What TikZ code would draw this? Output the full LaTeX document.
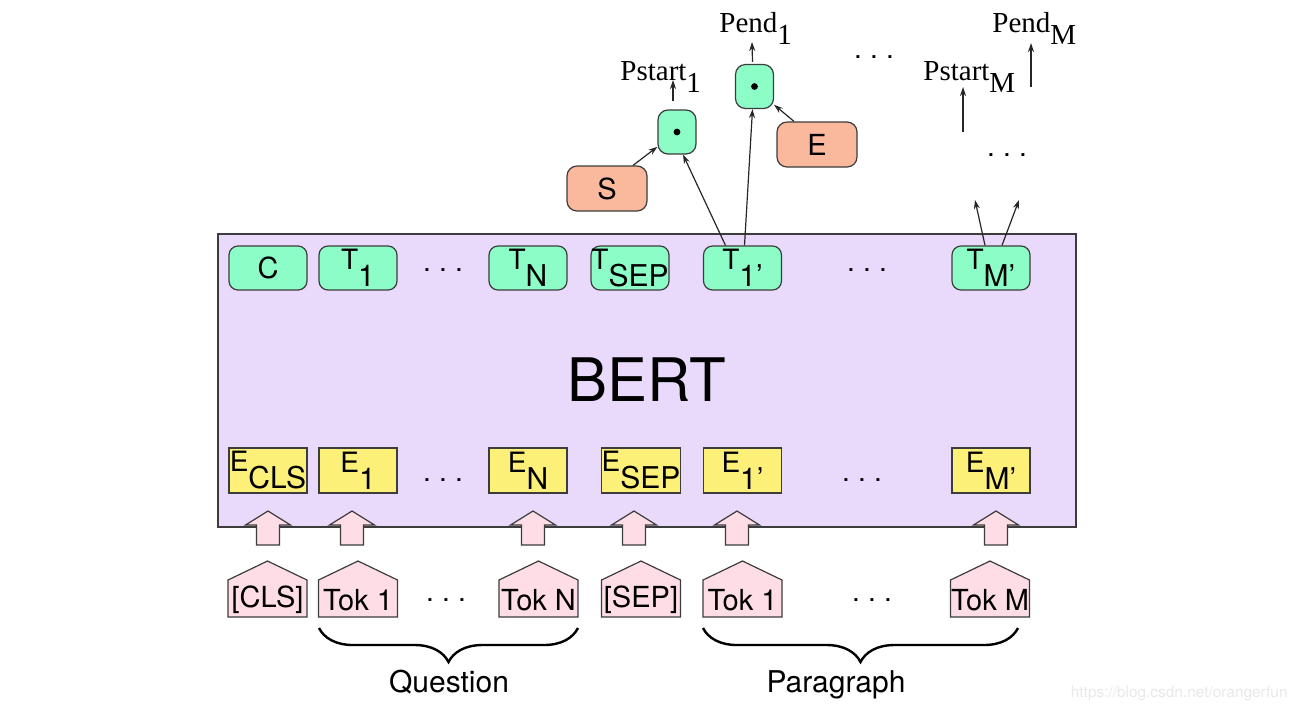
\documentclass[tikz,border=0pt]{standalone}
\usepackage{fontspec}
\setmainfont{Liberation Serif}
\setsansfont{TeX Gyre Heros}
\usetikzlibrary{arrows.meta,decorations.pathreplacing}

\definecolor{bertbg}{RGB}{233,218,252}
\definecolor{tgreen}{RGB}{140,253,199}
\definecolor{eyellow}{RGB}{252,240,121}
\definecolor{tokpink}{RGB}{255,221,230}
\definecolor{salmon}{RGB}{250,184,157}
\definecolor{edgegray}{RGB}{60,60,60}

\newcommand\sfs[1]{\fontsize{#1}{#1}\selectfont}
\newcommand\lbl[2]{{\sfs{14}#1}\raisebox{-8.5pt}{\sfs{15}#2}}
\newcommand\plbl[2]{#1\raisebox{-6pt}{#2}}
\newcommand\hdotsx{.\hspace{4.1pt}.\hspace{4.1pt}.}

\tikzset{
  bertbox/.style={draw=edgegray, fill=bertbg, line width=0.6pt},
  tbox/.style={draw=edgegray, fill=tgreen, rounded corners=4.5pt, minimum width=39pt, minimum height=22pt, inner sep=0pt, font=\sffamily, line width=0.6pt},
  ebox/.style={draw=edgegray, fill=eyellow, minimum width=39pt, minimum height=22.5pt, inner sep=0pt, font=\sffamily, line width=0.6pt},
  dotbox/.style={draw=edgegray, fill=tgreen, rounded corners=5pt, minimum width=19pt, minimum height=22pt, inner sep=0pt, line width=0.6pt},
  sebox/.style={draw=edgegray, fill=salmon, rounded corners=5pt, minimum width=40pt, minimum height=22.5pt, inner sep=0pt, font=\sffamily\sfs{14.5}, line width=0.6pt},
  tokstyle/.style={draw=edgegray, fill=tokpink, line width=0.6pt},
  blockarr/.style={draw=edgegray, fill=tokpink, line width=0.6pt},
  tokfont/.style={font=\sffamily\sfs{14.5}, inner sep=0pt},
  dotsnode/.style={font=\sffamily\sfs{14}, inner sep=0pt},
  arr/.style={-{Stealth[length=4.5pt,width=3pt]}, line width=0.6pt, draw=black!85},
  plabel/.style={font=\sfs{14.5}, inner sep=0pt, anchor=base west},
  bracestyle/.style={decorate, decoration={brace, mirror, amplitude=17pt}, line width=1.2pt},
}

\newcommand\tokshape[3]{%
  \draw[tokstyle] (#2-39.5,617) -- (#2-39.5,580) -- (#2,561) -- (#2+39.5,580) -- (#2+39.5,617) -- cycle;
  \node[tokfont] (#1) at (#2,600) {#3};}
\newcommand\uparr[1]{%
  \draw[blockarr] (#1-11.5,545) -- (#1-11.5,525) -- (#1-22.5,525) -- (#1,511) -- (#1+22.5,525) -- (#1+11.5,525) -- (#1+11.5,545) -- cycle;}

\begin{document}
\begin{tikzpicture}[x=0.5pt,y=-0.5pt]
\useasboundingbox (0,0) rectangle (1295,714);

% BERT block
\draw[bertbox] (218,234) rectangle (1076,527);
\node[font=\sffamily\sfs{30}, inner sep=0pt] (bert) at (647,380) {BERT};

% T row
\node[tbox] (C) at (268,268) {\sfs{14.5}C};
\node[tbox] (T1) at (358,268) {\lbl{T}{1}};
\node[dotsnode] (tdots1) at (443,270) {\hdotsx};
\node[tbox] (TN) at (528,268) {\lbl{T}{N}};
\node[tbox] (TSEP) at (630,268) {\lbl{T}{SEP}};
\node[tbox] (T1p) at (742.5,268) {\lbl{T}{1’}};
\node[dotsnode] (tdots2) at (867,270) {\hdotsx};
\node[tbox] (TMp) at (991,268) {\lbl{T}{M’}};

% E row
\node[ebox] (ECLS) at (268,470.5) {\lbl{E}{CLS}};
\node[ebox] (E1) at (358,470.5) {\lbl{E}{1}};
\node[dotsnode] (edots1) at (443,480) {\hdotsx};
\node[ebox] (EN) at (528,470.5) {\lbl{E}{N}};
\node[ebox] (ESEP) at (641,470.5) {\lbl{E}{SEP}};
\node[ebox] (E1p) at (742.5,470.5) {\lbl{E}{1’}};
\node[dotsnode] (edots2) at (862,480) {\hdotsx};
\node[ebox] (EMp) at (991,470.5) {\lbl{E}{M’}};

% block arrows
\uparr{268}
\uparr{352}
\uparr{533}
\uparr{634}
\uparr{737}
\uparr{996}

% tokens
\tokshape{tcls}{267.5}{[CLS]}
\tokshape{tok1}{358}{Tok 1}
\node[dotsnode] (kdots1) at (446,600) {\hdotsx};
\tokshape{tokN}{538.5}{Tok N}
\tokshape{tsep}{641}{[SEP]}
\tokshape{tok1p}{742.5}{Tok 1}
\node[dotsnode] (kdots2) at (872,600) {\hdotsx};
\tokshape{tokM}{990}{Tok M}

% braces
\draw[bracestyle] (319,628) -- (578,628);
\draw[bracestyle] (703,628) -- (1018,628);
\node[font=\sffamily\sfs{15}, inner sep=0pt, anchor=base] (question) at (449,692) {Question};
\node[font=\sffamily\sfs{15}, inner sep=0pt, anchor=base] (paragraph) at (836,692) {Paragraph};

% dot product nodes
\node[dotbox] (dot1) at (677,132) {};
\fill (dot1.center) circle (1.7pt);
\node[dotbox] (dot2) at (754.5,86.5) {};
\fill (dot2.center) circle (1.7pt);
\node[sebox] (S) at (607,188.5) {S};
\node[sebox] (E) at (817,144.5) {E};

\draw[arr] ([xshift=13pt]S.north) -- (dot1.217);
\draw[arr] ([xshift=-8.5pt]T1p.north) -- ([xshift=3pt]dot1.south);
\draw[arr] ([xshift=1pt]T1p.north) -- ([xshift=-1pt]dot2.south);
\draw[arr] ([xshift=-11.5pt]E.north) -- (dot2.-43);

% output labels
\coordinate (ps1) at (673,80);
\coordinate (pe1) at (752,42);
\draw[arr] ([xshift=-2pt,yshift=4pt]dot1.north) -- (ps1);
\draw[arr] ([xshift=-1pt,yshift=1pt]dot2.north) -- (pe1);
\node[plabel] (pstart1) at (620,80) {\plbl{Pstart}{1}};
\node[plabel] (pend1) at (719,32) {\plbl{Pend}{1}};
\node[font=\sffamily\sfs{14}, inner sep=0pt] (topdots) at (874,57) {\hdotsx};

% M side
\coordinate (tmL) at (975,200);
\coordinate (tmR) at (1019,200);
\draw[arr] ([xshift=-3pt]TMp.north) -- (tmL);
\draw[arr] ([xshift=5.5pt]TMp.north) -- (tmR);
\node[dotsnode] (middots) at (1007,155) {\hdotsx};
\coordinate (psMa) at (963,132);
\coordinate (psMb) at (963,87);
\coordinate (peMa) at (1031,87);
\coordinate (peMb) at (1031,43);
\draw[arr] (psMa) -- (psMb);
\draw[arr] (peMa) -- (peMb);
\node[plabel] (pstartM) at (923,80) {\plbl{Pstart}{M}};
\node[plabel] (pendM) at (992,32) {\plbl{Pend}{M}};

% watermark
\node[font=\sffamily\sfs{7.7}, text=black!9, inner sep=0pt, anchor=base east] (wm) at (1288,697) {https://blog.csdn.net/orangerfun};
\end{tikzpicture}
\end{document}
